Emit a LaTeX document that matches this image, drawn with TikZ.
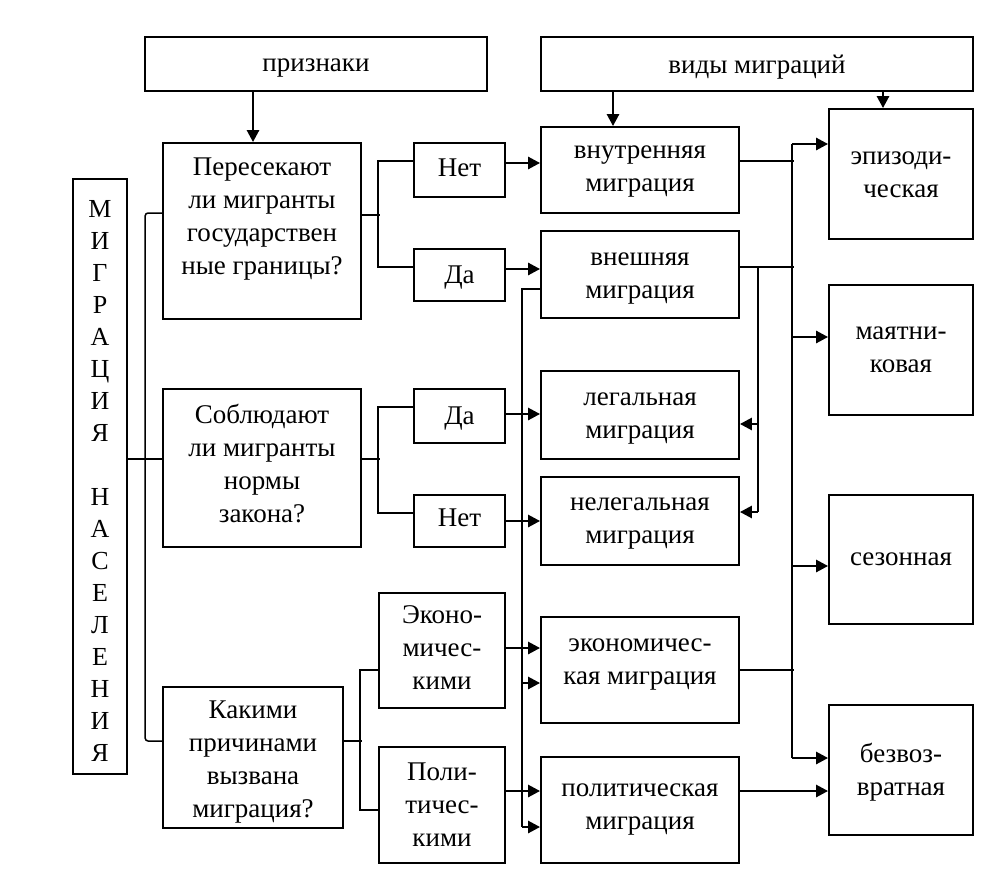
\documentclass[tikz,border=0pt]{standalone}
\usepackage{fontspec}
\setmainfont{Liberation Serif}
\usetikzlibrary{arrows.meta,calc}
\begin{document}
\begin{tikzpicture}[x=1pt,y=-1pt,
 bx/.style={draw, line width=1.8pt, inner sep=0pt},
 tx/.style={align=center, inner sep=0pt, font=\fontsize{27}{33}\selectfont},
 ln/.style={line width=1.5pt},
 ar/.style={line width=2.6pt, -{Triangle[length=12pt,width=12pt]}}]
\useasboundingbox[fill=white] (0,0) rectangle (990,880);
% top headers
\node[bx, minimum width=342pt, minimum height=54pt] (P) at (316,64) {};
\node[tx] (Pt) at (316,68) {признаки};
\node[bx, minimum width=432pt, minimum height=54pt] (V) at (757,64) {};
\node[tx] (Vt) at (757,67) {виды миграций};
% questions
\node[bx, minimum width=198pt, minimum height=176pt] (Q1) at (262,231) {};
\node[tx] (Q1t) at (262,219) {Пересекают\\ли мигранты\\государствен\\ные границы?};
\node[bx, minimum width=198pt, minimum height=158pt] (Q2) at (262,468) {};
\node[tx] (Q2t) at (262,464) {Соблюдают\\ли мигранты\\нормы\\закона?};
\node[bx, minimum width=180pt, minimum height=141pt] (Q3) at (253,757.5) {};
\node[tx] (Q3t) at (253,762) {Какими\\причинами\\вызвана\\миграция?};
% vertical title
\node[bx, minimum width=54pt, minimum height=595pt] (M) at (100,476.5) {};
\node[tx, font=\fontsize{26}{32}\selectfont] (Mt) at (100,481)
 {М\\И\\Г\\Р\\А\\Ц\\И\\Я\\\mbox{}\\Н\\А\\С\\Е\\Л\\Е\\Н\\И\\Я};
% answers
\node[bx, minimum width=91pt, minimum height=54pt] (N1) at (459.5,170) {};
\node[tx] (N1t) at (459.5,168) {Нет};
\node[bx, minimum width=91pt, minimum height=52pt] (D1) at (459.5,275) {};
\node[tx] (D1t) at (459.5,278) {Да};
\node[bx, minimum width=91pt, minimum height=54pt] (D2) at (459.5,416) {};
\node[tx] (D2t) at (459.5,419) {Да};
\node[bx, minimum width=91pt, minimum height=52pt] (N2) at (459.5,521) {};
\node[tx] (N2t) at (459.5,518) {Нет};
\node[bx, minimum width=126pt, minimum height=115pt] (E) at (442,650.5) {};
\node[tx] (Et) at (442,648) {Эконо-\\мичес-\\кими};
\node[bx, minimum width=126pt, minimum height=116pt] (Pl) at (442,805) {};
\node[tx] (Plt) at (442,805) {Поли-\\тичес-\\кими};
% middle column
\node[bx, minimum width=198pt, minimum height=86pt] (vn) at (640,170) {};
\node[tx] (vnt) at (640,172) {внутренняя\\миграция};
\node[bx, minimum width=198pt, minimum height=87pt] (ve) at (640,274.5) {};
\node[tx] (vet) at (640,279) {внешняя\\миграция};
\node[bx, minimum width=198pt, minimum height=88pt] (lg) at (640,415) {};
\node[tx] (lgt) at (640,419) {легальная\\миграция};
\node[bx, minimum width=198pt, minimum height=88pt] (nl) at (640,521) {};
\node[tx] (nlt) at (640,524) {нелегальная\\миграция};
\node[bx, minimum width=198pt, minimum height=106pt] (ec) at (640,670) {};
\node[tx] (ect) at (640,665) {экономичес-\\кая миграция};
\node[bx, minimum width=198pt, minimum height=106pt] (po) at (640,810) {};
\node[tx] (pot) at (640,810) {политическая\\миграция};
% right column
\node[bx, minimum width=144pt, minimum height=130pt] (ep) at (901,174) {};
\node[tx] (ept) at (901,175) {эпизоди-\\ческая};
\node[bx, minimum width=144pt, minimum height=130pt] (ma) at (901,350) {};
\node[tx] (mat) at (901,350) {маятни-\\ковая};
\node[bx, minimum width=144pt, minimum height=129pt] (se) at (901,559.5) {};
\node[tx] (set) at (901,559.5) {сезонная};
\node[bx, minimum width=144pt, minimum height=130pt] (bz) at (901,770) {};
\node[tx] (bzt) at (901,772) {безвоз-\\вратная};
% header arrows
\draw[ar] ([xshift=-63pt]P.south) -- ([xshift=-9pt]Q1.north);
\draw[ar] ([xshift=-144pt]V.south) -- ([xshift=-27pt]vn.north);
\draw[ar] ([xshift=126pt]V.south) -- ([xshift=-18pt]ep.north);
% left bracket
\draw[ln, rounded corners=3pt] ([yshift=18pt]Q1.west) -- ++(-17,0) |- ([yshift=16.5pt]Q3.west);
\draw[ln] ([yshift=17.5pt]M.east) -- ([yshift=9pt]Q2.west);
% question brackets
\draw[ln] ([yshift=16pt]Q1.east) -- ++(18,0);
\draw[ln] ([yshift=9pt]N1.west) -- ++(-35,0) |- ([yshift=8pt]D1.west);
\draw[ln] ([yshift=9pt]Q2.east) -- ++(18,0);
\draw[ln] ([yshift=9pt]D2.west) -- ++(-35,0) |- ([yshift=8pt]N2.west);
\draw[ln] ([yshift=16.5pt]Q3.east) -- ++(18,0);
\draw[ln] ([yshift=-19.5pt]E.west) -- ++(-18,0) |- ([yshift=-5pt]Pl.west);
% answers to types
\draw[ar] ([yshift=7pt]N1.east) -- ([yshift=7pt]N1.east -| vn.west);
\draw[ar] ([yshift=6pt]D1.east) -- ([yshift=6pt]D1.east -| ve.west);
\draw[ar] ([yshift=2pt]D2.east) -- ([yshift=2pt]D2.east -| lg.west);
\draw[ar] (N2.east) -- (N2.east -| nl.west);
\draw[ar] ([yshift=2.5pt]E.east) -- ([yshift=2.5pt]E.east -| ec.west);
\draw[ar] ([yshift=14pt]Pl.east) -- ([yshift=14pt]Pl.east -| po.west);
% left bus from external migration
\draw[ln] ([yshift=-14.5pt]ve.west) -- ++(-18,0) -- ([xshift=-18pt,yshift=-17pt]po.west);
\draw[ar] ([xshift=-18pt,yshift=-13pt]ec.west) -- ([yshift=-13pt]ec.west);
\draw[ar] ([xshift=-18pt,yshift=-17pt]po.west) -- ([yshift=-17pt]po.west);
% external to legal / illegal
\draw[ln] ([xshift=18pt,yshift=7.5pt]ve.east) -- ([xshift=18pt,yshift=9pt]nl.east);
\draw[ar] ([xshift=18pt,yshift=-9pt]lg.east) -- ([yshift=-9pt]lg.east);
\draw[ar] ([xshift=18pt,yshift=9pt]nl.east) -- ([yshift=9pt]nl.east);
% right bus
\draw[ln] ([yshift=9pt]vn.east) -- ++(54,0);
\draw[ln] ([yshift=7.5pt]ve.east) -- ++(54,0);
\draw[ln] (ec.east) -- ++(54,0);
\draw[ln] ([xshift=-36pt,yshift=30pt]ep.west) -- ([xshift=-36pt,yshift=12pt]bz.west);
\draw[ar] ([xshift=-36pt,yshift=30pt]ep.west) -- ([yshift=30pt]ep.west);
\draw[ar] ([xshift=-36pt,yshift=13pt]ma.west) -- ([yshift=13pt]ma.west);
\draw[ar] ([xshift=-36pt,yshift=-6.5pt]se.west) -- ([yshift=-6.5pt]se.west);
\draw[ar] ([xshift=-36pt,yshift=12pt]bz.west) -- ([yshift=12pt]bz.west);
\draw[ar] ([yshift=19pt]po.east) -- ([yshift=19pt]po.east -| bz.west);
\end{tikzpicture}
\end{document}
